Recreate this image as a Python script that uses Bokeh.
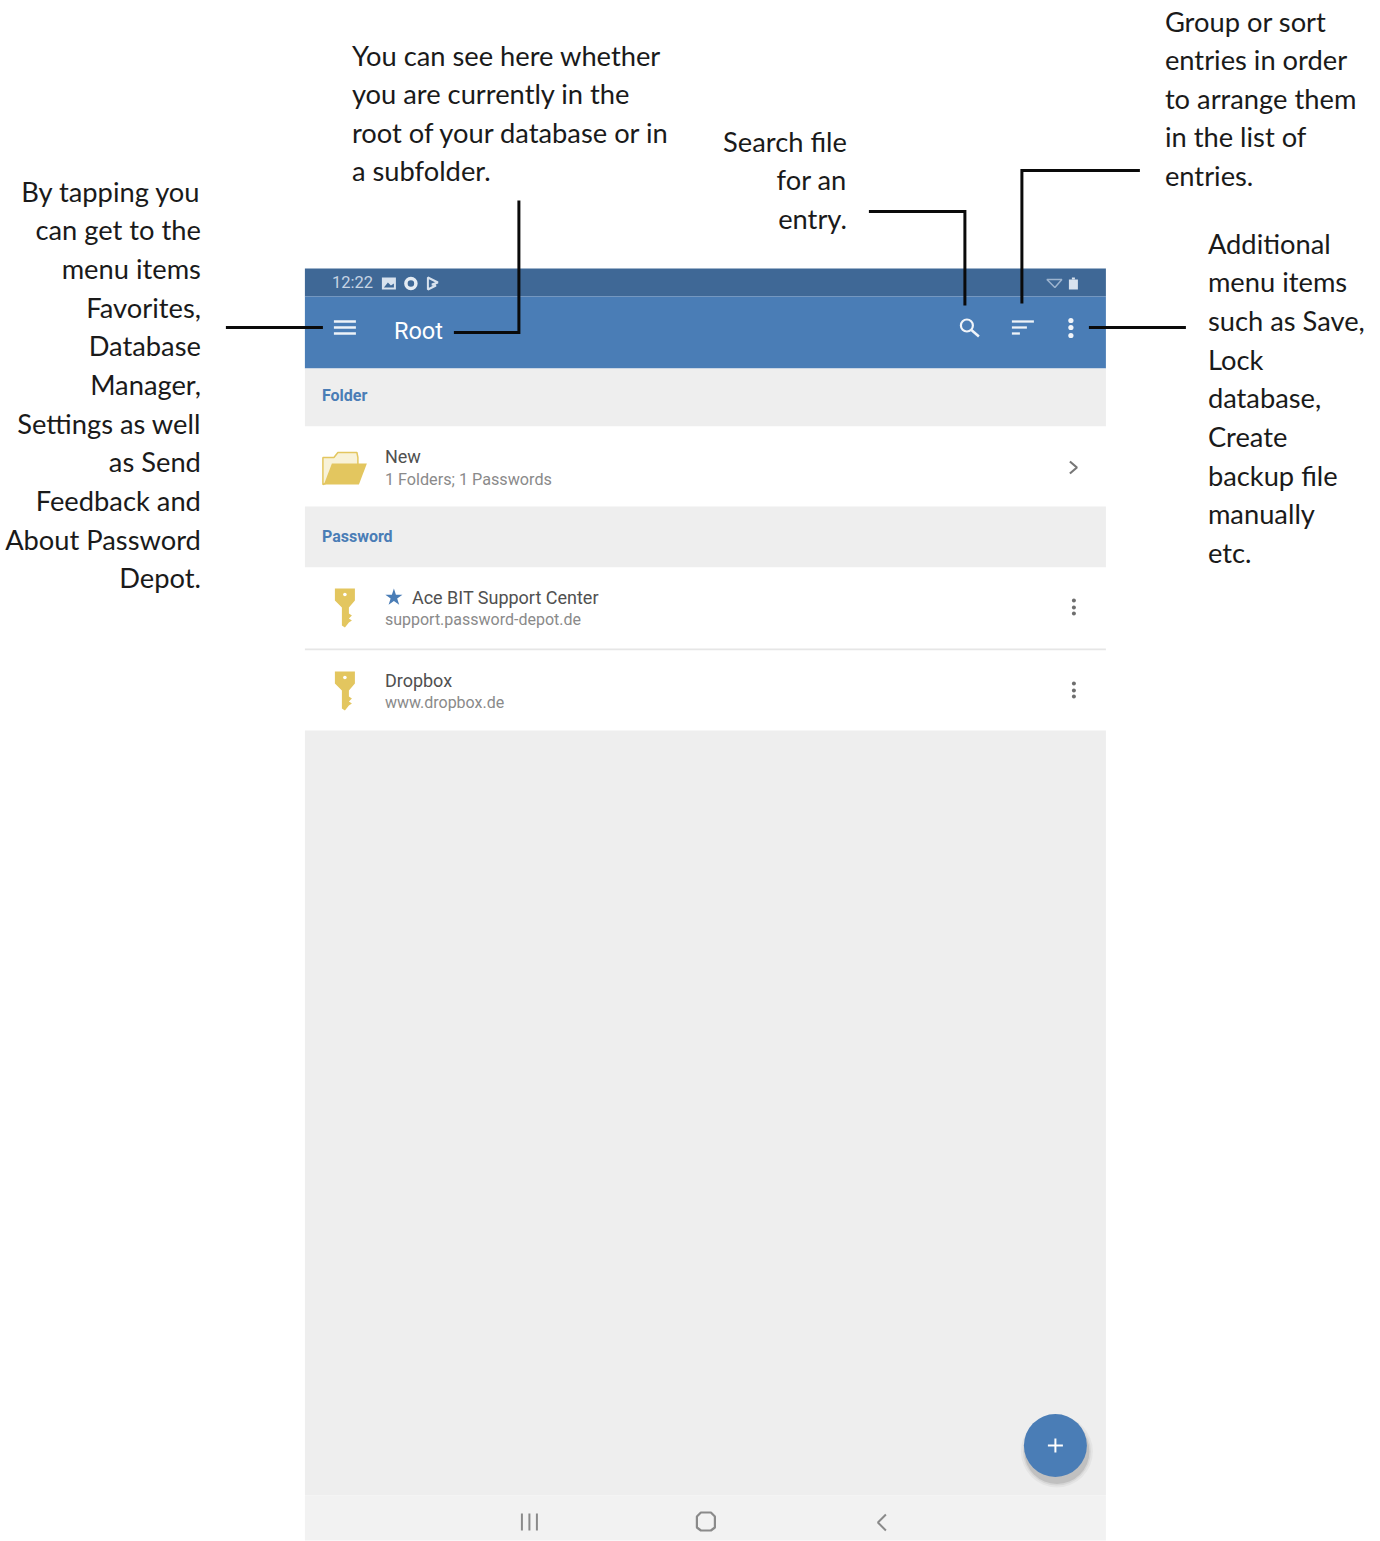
from bokeh.plotting import figure
from bokeh.models import Range1d
from bokeh.core.properties import value
from bokeh.embed import file_html
from bokeh.resources import INLINE

# ---- annotation texts (right-aligned or left-aligned blocks) ----
left_lines = ["By tapping you", "can get to the", "menu items", "Favorites,", "Database", "Manager,",
              "Settings as well", "as Send", "Feedback and", "About Password", "Depot."]
left_base = [202, 240, 279, 318, 356, 395, 434, 472, 511, 550, 588]
root_lines = ["You can see here whether", "you are currently in the", "root of your database or in", "a subfolder."]
root_base = [66, 104, 143, 181]
search_lines = ["Search file", "for an", "entry."]
search_base = [152, 190, 229]
group_lines = ["Group or sort", "entries in order", "to arrange them", "in the list of", "entries."]
group_base = [32, 70, 109, 147, 186]
extra_lines = ["Additional", "menu items", "such as Save,", "Lock", "database,", "Create", "backup file", "manually", "etc."]
extra_base = [254, 292, 331, 370, 408, 447, 486, 524, 563]

# ---- leader lines ----
leaders = [
    ([226, 323], [327, 327]),
    ([519, 519, 454], [200, 332, 332]),
    ([869, 965, 965], [211, 211, 305]),
    ([1140, 1022, 1022], [170, 170, 303]),
    ([1089, 1186], [327, 327]),
]

# ---- screen bands: top, bottom, colour ----
band_top = [268, 296, 368, 426, 506, 567, 648, 650, 730, 1495]
band_bot = [296, 368, 426, 506, 567, 648, 650, 730, 1495, 1540]
band_col = ["#3f6896", "#4a7db6", "#eeeeee", "#ffffff", "#eeeeee", "#ffffff", "#e6e6e6", "#ffffff", "#eeeeee", "#f2f2f2"]

BLUE = "#4a7db6"
GOLD = "#e3c65f"
FONT_A = "Lato"
FONT_B = "Roboto"

p = figure(width=1380, height=1541, x_range=Range1d(0.6, 1380.6), y_range=Range1d(1541, 0),
           x_axis_location=None, y_axis_location=None, toolbar_location=None,
           output_backend="svg", min_border=0, outline_line_color=None,
           background_fill_color="#ffffff", border_fill_color="#ffffff")
p.grid.visible = False


def txt(x, y, s, size, color, font, align="left", style="normal"):
    p.text(x=[x], y=[y - 0.38 * size - 0.5], text=[s], text_font=value(font), text_font_size=value(f"{size}px"),
           text_color=color, text_align=align, text_baseline="alphabetic", text_font_style=style)


p.quad(left=305, right=1106, top=band_top, bottom=band_bot, fill_color=band_col, line_color=None)

# annotation text
for s, y in zip(left_lines, left_base):
    txt(201, y, s, 27.3, "#1a1a1a", FONT_A, "right")
for s, y in zip(root_lines, root_base):
    txt(352, y, s, 27.3, "#1a1a1a", FONT_A)
for s, y in zip(search_lines, search_base):
    txt(847, y, s, 27.3, "#1a1a1a", FONT_A, "right")
for s, y in zip(group_lines, group_base):
    txt(1165, y, s, 27.3, "#1a1a1a", FONT_A)
for s, y in zip(extra_lines, extra_base):
    txt(1208, y, s, 27.3, "#1a1a1a", FONT_A)

# status bar
txt(332, 289, "12:22", 16.5, "#c6d4e4", FONT_B)
p.quad(left=382, right=396, top=277, bottom=289, fill_color="#d8e2ee", line_color=None)
p.patch([384, 388, 391, 394, 394, 384], [287, 282, 285, 283, 287, 287], fill_color="#3f6896", line_color=None)
p.circle(x=[411], y=[283], radius=5, fill_color=None, line_color="#e4ebf3", line_width=3.5)
p.patch([428, 438, 432, 436, 428], [277, 282, 284, 285, 289], fill_color=None, line_color="#d8e2ee", line_width=2)
p.patch([1047, 1062, 1055], [279, 279, 287], fill_color=None, line_color="#9db4cf", line_width=1.5)
p.quad(left=1069, right=1078, top=279, bottom=289, fill_color="#d8e2ee", line_color=None)
p.quad(left=1072, right=1075, top=277, bottom=279, fill_color="#d8e2ee", line_color=None)

# toolbar icons
for y in [321, 327, 333]:
    p.line([334, 356], [y, y], line_color="#eef3f8", line_width=2.5)
txt(394, 340, "Root", 23.5, "#ffffff", FONT_B, style="normal")
p.circle(x=[967], y=[325], radius=6, fill_color=None, line_color="#f0f4f9", line_width=2.2)
p.line([971.5, 979], [329.5, 336], line_color="#f0f4f9", line_width=2.5)
for x1, y in zip([1034, 1027, 1020], [321, 327, 333]):
    p.line([1012, x1], [y, y], line_color="#eef3f8", line_width=2.3)
p.circle(x=[1071, 1071, 1071], y=[320, 327, 335], radius=2.6, fill_color="#f0f4f9", line_color=None)

# leader lines
for xs, ys in leaders:
    p.line(xs, ys, line_color="#0a0a0a", line_width=3, line_join="miter")

# folder row
txt(322, 402, "Folder", 16, BLUE, FONT_B, style="bold")
p.patch([323, 323, 334, 338, 357, 358, 358, 323], [484, 457, 457, 452, 452, 457, 470, 484],
        fill_color="#f8f2d8", line_color="#e3c65f", line_width=1.5)
p.patch([332, 367, 359, 324], [463, 463, 484, 484], fill_color=GOLD, line_color=None)
txt(385, 463, "New", 18, "#505050", FONT_B)
txt(385, 486, "1 Folders; 1 Passwords", 16.2, "#8a8a8a", FONT_B)
p.line([1070, 1077, 1070], [461, 467, 473], line_color="#777777", line_width=2.2)

# password rows
txt(322, 543, "Password", 16, BLUE, FONT_B, style="bold")
key_xs = [335, 355, 355, 349, 349, 352, 349, 352, 349, 345, 342, 342, 335]
key_ys = [0, 0, 12, 19, 25, 27, 30, 32, 34, 39, 37, 19, 12]
for y0 in [588, 671]:
    p.patch(key_xs, [y0 + v for v in key_ys], fill_color=GOLD, line_color=None)
    p.circle(x=[345], y=[y0 + 6], radius=1.8, fill_color="#ffffff", line_color=None)
    p.circle(x=[1074, 1074, 1074], y=[y0 + 12, y0 + 19, y0 + 25], radius=2, fill_color="#6e6e6e", line_color=None)
p.scatter(x=[394], y=[597], marker="star", size=18, fill_color=BLUE, line_color=None)
txt(412, 604, "Ace BIT Support Center", 18, "#505050", FONT_B)
txt(385, 626, "support.password-depot.de", 16, "#8a8a8a", FONT_B)
txt(385, 687, "Dropbox", 18, "#505050", FONT_B)
txt(385, 709, "www.dropbox.de", 16, "#8a8a8a", FONT_B)

# floating button with soft shadow
for r, a in zip([36, 34, 32.5], [0.04, 0.06, 0.1]):
    p.circle(x=[1057], y=[1451], radius=r, fill_color="#000000", fill_alpha=a, line_color=None)
p.circle(x=[1055.5], y=[1445], radius=31.5, fill_color=BLUE, line_color=None)
p.line([1048, 1063], [1445, 1445], line_color="#ffffff", line_width=2)
p.line([1055.5, 1055.5], [1438, 1452], line_color="#ffffff", line_width=2)

# navigation bar
for x in [522, 529.5, 537]:
    p.line([x, x], [1513, 1530], line_color="#8a8a8a", line_width=2)
p.patch([701, 711, 715, 715, 711, 701, 697, 697], [1512, 1512, 1516, 1527, 1530, 1530, 1527, 1516],
        fill_color=None, line_color="#8a8a8a", line_width=2.2)
p.line([886, 878, 886], [1514, 1522, 1530], line_color="#8a8a8a", line_width=2)

open("out.html", "w").write(file_html(p, INLINE))
